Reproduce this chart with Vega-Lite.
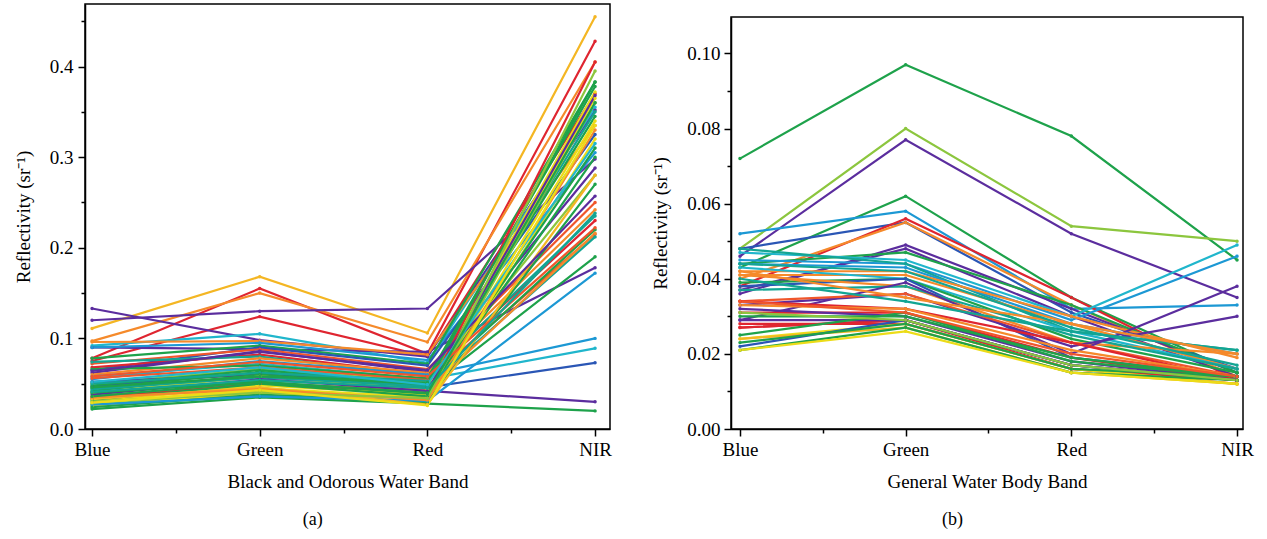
{
  "$schema": "https://vega.github.io/schema/vega-lite/v6.json",
  "padding": {"left": 13, "top": 3, "right": 0, "bottom": 0},
  "background": "white",
  "config": {
    "font": "Liberation Serif",
    "view": {"stroke": "black", "strokeWidth": 1.5},
    "axis": {"grid": false, "domainColor": "black", "domainWidth": 1.5, "tickColor": "black", "tickWidth": 1.5, "labelColor": "black", "titleColor": "black", "labelFontSize": 19, "titleFontSize": 19, "titleFontWeight": "normal", "labelFont": "Liberation Serif", "titleFont": "Liberation Serif"},
    "title": {"fontSize": 18, "fontWeight": "normal", "color": "black", "font": "Liberation Serif"}
  },
  "datasets": {
    "bands": [{"band": "Blue", "i": 0}, {"band": "Green", "i": 1}, {"band": "Red", "i": 2}, {"band": "NIR", "i": 3}],
    "spacer": [{"t": 0}],
    "a": [
      {"s":"a1","Blue":0.111,"Green":0.168,"Red":0.106,"NIR":0.455},
      {"s":"a2","Blue":0.078,"Green":0.155,"Red":0.083,"NIR":0.428},
      {"s":"a3","Blue":0.097,"Green":0.150,"Red":0.096,"NIR":0.405},
      {"s":"a4","Blue":0.075,"Green":0.124,"Red":0.080,"NIR":0.370},
      {"s":"a5","Blue":0.120,"Green":0.130,"Red":0.133,"NIR":0.298},
      {"s":"a6","Blue":0.133,"Green":0.098,"Red":0.080,"NIR":0.352},
      {"s":"a7","Blue":0.092,"Green":0.105,"Red":0.073,"NIR":0.355},
      {"s":"a8","Blue":0.090,"Green":0.088,"Red":0.085,"NIR":0.178},
      {"s":"a9","Blue":0.096,"Green":0.097,"Red":0.082,"NIR":0.335},
      {"s":"a10","Blue":0.090,"Green":0.095,"Red":0.076,"NIR":0.305},
      {"s":"a11","Blue":0.078,"Green":0.092,"Red":0.072,"NIR":0.383},
      {"s":"a12","Blue":0.065,"Green":0.090,"Red":0.070,"NIR":0.325},
      {"s":"a13","Blue":0.072,"Green":0.088,"Red":0.066,"NIR":0.250},
      {"s":"a14","Blue":0.062,"Green":0.086,"Red":0.063,"NIR":0.288},
      {"s":"a15","Blue":0.068,"Green":0.082,"Red":0.060,"NIR":0.230},
      {"s":"a16","Blue":0.074,"Green":0.080,"Red":0.058,"NIR":0.235},
      {"s":"a17","Blue":0.060,"Green":0.078,"Red":0.062,"NIR":0.242},
      {"s":"a18","Blue":0.055,"Green":0.075,"Red":0.060,"NIR":0.100},
      {"s":"a19","Blue":0.058,"Green":0.072,"Red":0.055,"NIR":0.089},
      {"s":"a20","Blue":0.066,"Green":0.070,"Red":0.056,"NIR":0.378},
      {"s":"a21","Blue":0.056,"Green":0.068,"Red":0.054,"NIR":0.215},
      {"s":"a22","Blue":0.050,"Green":0.066,"Red":0.052,"NIR":0.280},
      {"s":"a23","Blue":0.047,"Green":0.062,"Red":0.046,"NIR":0.073},
      {"s":"a24","Blue":0.052,"Green":0.060,"Red":0.042,"NIR":0.030},
      {"s":"a25","Blue":0.048,"Green":0.065,"Red":0.050,"NIR":0.220},
      {"s":"a26","Blue":0.045,"Green":0.063,"Red":0.048,"NIR":0.345},
      {"s":"a27","Blue":0.050,"Green":0.062,"Red":0.053,"NIR":0.350},
      {"s":"a28","Blue":0.042,"Green":0.060,"Red":0.046,"NIR":0.190},
      {"s":"a29","Blue":0.040,"Green":0.058,"Red":0.044,"NIR":0.372},
      {"s":"a30","Blue":0.044,"Green":0.057,"Red":0.047,"NIR":0.212},
      {"s":"a31","Blue":0.036,"Green":0.050,"Red":0.043,"NIR":0.216},
      {"s":"a32","Blue":0.034,"Green":0.050,"Red":0.040,"NIR":0.405},
      {"s":"a33","Blue":0.030,"Green":0.048,"Red":0.038,"NIR":0.365},
      {"s":"a34","Blue":0.038,"Green":0.055,"Red":0.042,"NIR":0.368},
      {"s":"a35","Blue":0.028,"Green":0.045,"Red":0.035,"NIR":0.340},
      {"s":"a36","Blue":0.032,"Green":0.050,"Red":0.036,"NIR":0.300},
      {"s":"a37","Blue":0.026,"Green":0.042,"Red":0.033,"NIR":0.360},
      {"s":"a38","Blue":0.025,"Green":0.040,"Red":0.030,"NIR":0.320},
      {"s":"a39","Blue":0.024,"Green":0.038,"Red":0.030,"NIR":0.270},
      {"s":"a40","Blue":0.022,"Green":0.035,"Red":0.028,"NIR":0.020},
      {"s":"a41","Blue":0.027,"Green":0.036,"Red":0.031,"NIR":0.172},
      {"s":"a42","Blue":0.040,"Green":0.052,"Red":0.040,"NIR":0.310},
      {"s":"a43","Blue":0.033,"Green":0.046,"Red":0.027,"NIR":0.280},
      {"s":"a44","Blue":0.035,"Green":0.044,"Red":0.032,"NIR":0.330},
      {"s":"a45","Blue":0.046,"Green":0.058,"Red":0.051,"NIR":0.383},
      {"s":"a46","Blue":0.064,"Green":0.085,"Red":0.065,"NIR":0.257},
      {"s":"a47","Blue":0.058,"Green":0.074,"Red":0.058,"NIR":0.222},
      {"s":"a48","Blue":0.030,"Green":0.040,"Red":0.034,"NIR":0.395},
      {"s":"a49","Blue":0.041,"Green":0.054,"Red":0.045,"NIR":0.238},
      {"s":"a50","Blue":0.052,"Green":0.068,"Red":0.049,"NIR":0.315},
      {"s":"a51","Blue":0.036,"Green":0.052,"Red":0.039,"NIR":0.360},
      {"s":"a52","Blue":0.029,"Green":0.043,"Red":0.026,"NIR":0.335}
    ],
    "b": [
      {"s":"b1","Blue":0.072,"Green":0.097,"Red":0.078,"NIR":0.045},
      {"s":"b2","Blue":0.048,"Green":0.080,"Red":0.054,"NIR":0.050},
      {"s":"b3","Blue":0.046,"Green":0.077,"Red":0.052,"NIR":0.035},
      {"s":"b4","Blue":0.043,"Green":0.062,"Red":0.035,"NIR":0.015},
      {"s":"b5","Blue":0.052,"Green":0.058,"Red":0.032,"NIR":0.033},
      {"s":"b6","Blue":0.048,"Green":0.055,"Red":0.031,"NIR":0.016},
      {"s":"b7","Blue":0.038,"Green":0.056,"Red":0.035,"NIR":0.013},
      {"s":"b8","Blue":0.040,"Green":0.055,"Red":0.033,"NIR":0.014},
      {"s":"b9","Blue":0.036,"Green":0.049,"Red":0.032,"NIR":0.015},
      {"s":"b10","Blue":0.037,"Green":0.048,"Red":0.030,"NIR":0.014},
      {"s":"b11","Blue":0.044,"Green":0.047,"Red":0.033,"NIR":0.015},
      {"s":"b12","Blue":0.047,"Green":0.045,"Red":0.030,"NIR":0.049},
      {"s":"b13","Blue":0.045,"Green":0.044,"Red":0.029,"NIR":0.046},
      {"s":"b14","Blue":0.048,"Green":0.044,"Red":0.026,"NIR":0.021},
      {"s":"b15","Blue":0.044,"Green":0.043,"Red":0.028,"NIR":0.020},
      {"s":"b16","Blue":0.042,"Green":0.042,"Red":0.030,"NIR":0.019},
      {"s":"b17","Blue":0.041,"Green":0.041,"Red":0.028,"NIR":0.016},
      {"s":"b18","Blue":0.043,"Green":0.040,"Red":0.026,"NIR":0.016},
      {"s":"b19","Blue":0.039,"Green":0.040,"Red":0.024,"NIR":0.015},
      {"s":"b20","Blue":0.038,"Green":0.040,"Red":0.019,"NIR":0.014},
      {"s":"b21","Blue":0.041,"Green":0.038,"Red":0.023,"NIR":0.020},
      {"s":"b22","Blue":0.037,"Green":0.038,"Red":0.025,"NIR":0.016},
      {"s":"b23","Blue":0.029,"Green":0.039,"Red":0.020,"NIR":0.038},
      {"s":"b24","Blue":0.033,"Green":0.036,"Red":0.022,"NIR":0.030},
      {"s":"b25","Blue":0.034,"Green":0.036,"Red":0.023,"NIR":0.014},
      {"s":"b26","Blue":0.034,"Green":0.032,"Red":0.023,"NIR":0.013},
      {"s":"b27","Blue":0.033,"Green":0.032,"Red":0.021,"NIR":0.014},
      {"s":"b28","Blue":0.031,"Green":0.031,"Red":0.019,"NIR":0.013},
      {"s":"b29","Blue":0.032,"Green":0.030,"Red":0.018,"NIR":0.013},
      {"s":"b30","Blue":0.030,"Green":0.030,"Red":0.019,"NIR":0.014},
      {"s":"b31","Blue":0.027,"Green":0.029,"Red":0.017,"NIR":0.013},
      {"s":"b32","Blue":0.027,"Green":0.029,"Red":0.016,"NIR":0.012},
      {"s":"b33","Blue":0.029,"Green":0.029,"Red":0.017,"NIR":0.013},
      {"s":"b34","Blue":0.028,"Green":0.028,"Red":0.016,"NIR":0.013},
      {"s":"b35","Blue":0.025,"Green":0.031,"Red":0.018,"NIR":0.014},
      {"s":"b36","Blue":0.024,"Green":0.028,"Red":0.016,"NIR":0.012},
      {"s":"b37","Blue":0.024,"Green":0.027,"Red":0.015,"NIR":0.012},
      {"s":"b38","Blue":0.022,"Green":0.029,"Red":0.017,"NIR":0.013},
      {"s":"b39","Blue":0.021,"Green":0.027,"Red":0.015,"NIR":0.013},
      {"s":"b40","Blue":0.021,"Green":0.026,"Red":0.015,"NIR":0.012},
      {"s":"b41","Blue":0.023,"Green":0.028,"Red":0.016,"NIR":0.014},
      {"s":"b42","Blue":0.031,"Green":0.029,"Red":0.017,"NIR":0.013},
      {"s":"b43","Blue":0.040,"Green":0.034,"Red":0.026,"NIR":0.021},
      {"s":"b44","Blue":0.042,"Green":0.035,"Red":0.028,"NIR":0.020},
      {"s":"b45","Blue":0.044,"Green":0.042,"Red":0.027,"NIR":0.017},
      {"s":"b46","Blue":0.034,"Green":0.031,"Red":0.020,"NIR":0.014}
    ]
  },
  "spacing": 38,
  "resolve": {"scale": {"color": "independent"}},
  "hconcat": [
    {
      "width": 525,
      "height": 425,
      "title": {"text": "(a)", "orient": "bottom", "frame": "bounds", "anchor": "middle", "offset": 20},
      "data": {"name": "a"},
      "transform": [
        {"fold": ["Blue", "Green", "Red", "NIR"], "as": ["band", "v"]},
        {"lookup": "band", "from": {"data": {"name": "bands"}, "key": "band", "fields": ["i"]}}
      ],
      "mark": {"type": "line", "strokeWidth": 2.2, "point": {"filled": true, "size": 12}},
      "encoding": {
        "x": {"field": "i", "type": "quantitative", "scale": {"domain": [-0.042, 3.089], "nice": false, "zero": false},
          "axis": {"title": "Black and Odorous Water Band", "values": [0, 0.5, 1, 1.5, 2, 2.5, 3],
            "labelExpr": "datum.value == 0 ? 'Blue' : datum.value == 1 ? 'Green' : datum.value == 2 ? 'Red' : datum.value == 3 ? 'NIR' : ''",
            "tickSize": {"condition": {"test": "datum.value % 1 == 0", "value": 7}, "value": 4},
            "labelPadding": 4, "titlePadding": 13, "labelFlush": false}},
        "y": {"field": "v", "type": "quantitative", "scale": {"domain": [0, 0.469], "nice": false},
          "axis": {"title": "Reflectivity (sr⁻¹)", "values": [0, 0.05, 0.1, 0.15, 0.2, 0.25, 0.3, 0.35, 0.4, 0.45],
            "labelExpr": "abs(datum.value * 10 - round(datum.value * 10)) < 0.000001 ? format(datum.value, '.1f') : ''",
            "tickSize": {"condition": {"test": "abs(datum.value * 10 - round(datum.value * 10)) < 0.000001", "value": 7}, "value": 4},
            "labelPadding": 5, "titlePadding": 16, "labelFlush": false}},
        "color": {"field": "s", "type": "nominal", "legend": null,
          "scale": {"domain": ["a1","a2","a3","a4","a5","a6","a7","a8","a9","a10","a11","a12","a13","a14","a15","a16","a17","a18","a19","a20","a21","a22","a23","a24","a25","a26","a27","a28","a29","a30","a31","a32","a33","a34","a35","a36","a37","a38","a39","a40","a41","a42","a43","a44","a45","a46","a47","a48","a49","a50","a51","a52"],
            "range": ["#f4b623","#df2530","#f58a2b","#df2530","#5b2d9e","#5b2d9e","#20b6cc","#5b2d9e","#f58a2b","#1c98d4","#1ea24b","#2a56b5","#f0562b","#5b2d9e","#df2530","#13a593","#f58a2b","#1c98d4","#20b6cc","#1ea24b","#f0562b","#8cc63e","#2a56b5","#5b2d9e","#1ea24b","#1ea24b","#13a593","#1ea24b","#ecdc18","#13a593","#f58a2b","#df2530","#ecdc18","#5b2d9e","#ecdc18","#1ea24b","#8cc63e","#ecdc18","#1ea24b","#1ea24b","#1c98d4","#1ea24b","#f4b623","#f58a2b","#1ea24b","#5b2d9e","#f0562b","#8cc63e","#13a593","#20b6cc","#1ea24b","#ecdc18"]}}
      }
    },
    {
      "spacing": 11,
      "resolve": {"scale": {"color": "independent"}},
      "vconcat": [
        {
          "width": 512,
          "height": 1,
          "view": {"stroke": null},
          "data": {"name": "spacer"},
          "mark": {"type": "rect", "opacity": 0},
          "encoding": {}
        },
        {
          "width": 512,
          "height": 412,
          "title": {"text": "(b)", "orient": "bottom", "frame": "bounds", "anchor": "middle", "offset": 20},
          "data": {"name": "b"},
          "transform": [
            {"fold": ["Blue", "Green", "Red", "NIR"], "as": ["band", "v"]},
            {"lookup": "band", "from": {"data": {"name": "bands"}, "key": "band", "fields": ["i"]}}
          ],
          "mark": {"type": "line", "strokeWidth": 2.2, "point": {"filled": true, "size": 12}},
          "encoding": {
            "x": {"field": "i", "type": "quantitative", "scale": {"domain": [-0.054, 3.036], "nice": false, "zero": false},
              "axis": {"title": "General Water Body Band", "values": [0, 0.5, 1, 1.5, 2, 2.5, 3],
                "labelExpr": "datum.value == 0 ? 'Blue' : datum.value == 1 ? 'Green' : datum.value == 2 ? 'Red' : datum.value == 3 ? 'NIR' : ''",
                "tickSize": {"condition": {"test": "datum.value % 1 == 0", "value": 7}, "value": 4},
                "labelPadding": 4, "titlePadding": 13, "labelFlush": false}},
            "y": {"field": "v", "type": "quantitative", "scale": {"domain": [0, 0.1097], "nice": false},
              "axis": {"title": "Reflectivity (sr⁻¹)", "values": [0, 0.01, 0.02, 0.03, 0.04, 0.05, 0.06, 0.07, 0.08, 0.09, 0.1],
                "labelExpr": "abs(datum.value * 50 - round(datum.value * 50)) < 0.000001 ? format(datum.value, '.2f') : ''",
                "tickSize": {"condition": {"test": "abs(datum.value * 50 - round(datum.value * 50)) < 0.000001", "value": 7}, "value": 4},
                "labelPadding": 4, "titlePadding": 16, "labelFlush": false}},
            "color": {"field": "s", "type": "nominal", "legend": null,
              "scale": {"domain": ["b1","b2","b3","b4","b5","b6","b7","b8","b9","b10","b11","b12","b13","b14","b15","b16","b17","b18","b19","b20","b21","b22","b23","b24","b25","b26","b27","b28","b29","b30","b31","b32","b33","b34","b35","b36","b37","b38","b39","b40","b41","b42","b43","b44","b45","b46"],
                "range": ["#1ea24b","#8cc63e","#5b2d9e","#1ea24b","#1c98d4","#2a56b5","#df2530","#f58a2b","#5b2d9e","#5b2d9e","#1ea24b","#20b6cc","#1c98d4","#13a593","#1c98d4","#f58a2b","#f58a2b","#20b6cc","#1ea24b","#2a56b5","#f58a2b","#13a593","#5b2d9e","#5b2d9e","#f0562b","#df2530","#f58a2b","#df2530","#5b2d9e","#1ea24b","#df2530","#df2530","#5b2d9e","#df2530","#1ea24b","#ecdc18","#f4b623","#2a56b5","#1ea24b","#ecdc18","#1ea24b","#8cc63e","#13a593","#f58a2b","#13a593","#f0562b"]}}
          }
        }
      ]
    }
  ]
}
